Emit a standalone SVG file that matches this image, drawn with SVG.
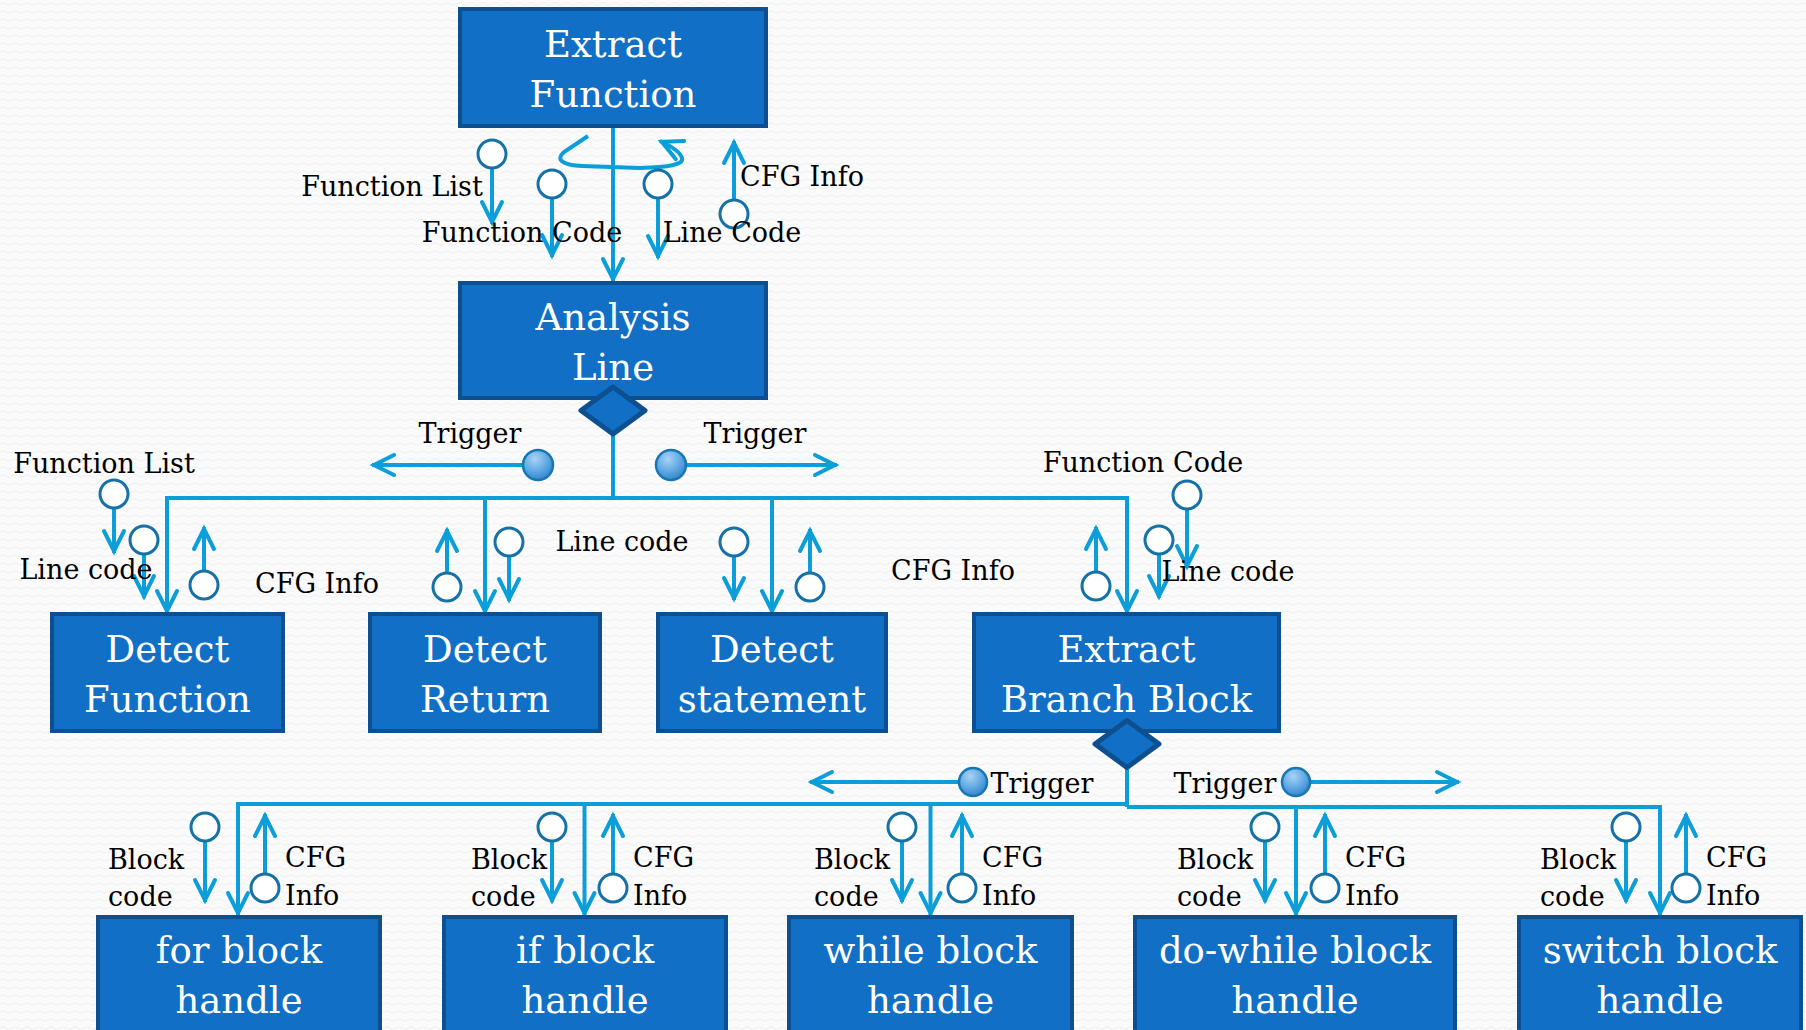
<svg xmlns="http://www.w3.org/2000/svg" width="1806" height="1030" viewBox="0 0 1806 1030">
<defs>
<style>
.box{fill:#1170C6;stroke:#0D4F8F;stroke-width:4}
.dia{fill:#1170C6;stroke:#0D4F8F;stroke-width:5;stroke-linejoin:round}
.nl{font-family:"DejaVu Serif",serif;font-size:37px;fill:#ffffff;text-anchor:middle}
.lb{font-family:"DejaVu Serif",serif;font-size:27px;fill:#000000}
.c{text-anchor:middle}
.ln{stroke:#0C9ED8;stroke-width:4;fill:none}
.ar{marker-end:url(#ah)}
.pc{fill:#ffffff;stroke:#1672A6;stroke-width:3}
.tc{fill:url(#tg);stroke:#1677B5;stroke-width:2.5}
</style>
<pattern id="bg" width="12" height="8" patternUnits="userSpaceOnUse">
<rect width="12" height="8" fill="#FBFBFC"/>
<path d="M0,4 Q3,1.5 6,4 T12,4" stroke="#EDEFF2" fill="none" stroke-width="1"/>
</pattern>
<radialGradient id="tg" cx="40%" cy="30%" r="75%">
<stop offset="0" stop-color="#A9D3F4"/>
<stop offset="0.6" stop-color="#5AA5E2"/>
<stop offset="1" stop-color="#2F80C6"/>
</radialGradient>
<marker id="ah" markerUnits="userSpaceOnUse" viewBox="-26 -14 30 28" markerWidth="30" markerHeight="28" refX="2" refY="0" orient="auto" overflow="visible">
<path d="M-20,-10 L0,0 L-20,10" fill="none" stroke="#0C9ED8" stroke-width="4" stroke-linecap="round"/>
</marker>
</defs>
<rect width="1806" height="1030" fill="url(#bg)"/>

<g id="connectors">
<!-- top -->
<path class="ln ar" d="M613,126 L613,281"/>
<path class="ln ar" d="M588,136 L564,152 C555,160 563,165 582,166 L640,168 C668,167 684,165 682,158 C680,152 671,146 660,141"/>
<path class="ln ar" d="M492,169 L492,224"/>
<path class="ln ar" d="M552,199 L552,257"/>
<path class="ln ar" d="M658,199 L658,258"/>
<path class="ln ar" d="M734,199 L734,141"/>
<!-- analysis line bus -->
<path class="ln" d="M613,434 L613,498"/>
<path class="ln ar" d="M613,498 L167,498 L167,613"/>
<path class="ln ar" d="M613,498 L1127,498 L1127,613"/>
<path class="ln ar" d="M485,498 L485,613"/>
<path class="ln ar" d="M772,498 L772,613"/>
<path class="ln ar" d="M523,465 L372,465"/>
<path class="ln ar" d="M686,465 L837,465"/>
<!-- detect function -->
<path class="ln ar" d="M114,509 L114,553"/>
<path class="ln ar" d="M144,555 L144,598"/>
<path class="ln ar" d="M204,570 L204,527"/>
<!-- detect return -->
<path class="ln ar" d="M447,572 L447,529"/>
<path class="ln ar" d="M509,557 L509,601"/>
<!-- detect statement -->
<path class="ln ar" d="M734,557 L734,600"/>
<path class="ln ar" d="M810,572 L810,529"/>
<!-- extract branch block -->
<path class="ln ar" d="M1096,571 L1096,527"/>
<path class="ln ar" d="M1159,555 L1159,598"/>
<path class="ln ar" d="M1187,510 L1187,568"/>
<!-- lower bus -->
<path class="ln" d="M1127,767 L1127,807"/>
<path class="ln ar" d="M1127,804 L238,804 L238,915"/>
<path class="ln ar" d="M584.5,804 L584.5,915"/>
<path class="ln ar" d="M930.5,804 L930.5,915"/>
<path class="ln ar" d="M1127,807 L1660,807 L1660,915"/>
<path class="ln ar" d="M1296,807 L1296,915"/>
<path class="ln ar" d="M958,782 L810,782"/>
<path class="ln ar" d="M1311,782 L1459,782"/>
<!-- block handles -->
<path class="ln ar" d="M205,842 L205,902"/>
<path class="ln ar" d="M265,873 L265,814"/>
<path class="ln ar" d="M552,842 L552,902"/>
<path class="ln ar" d="M613,873 L613,814"/>
<path class="ln ar" d="M902,842 L902,902"/>
<path class="ln ar" d="M962,873 L962,814"/>
<path class="ln ar" d="M1265,842 L1265,902"/>
<path class="ln ar" d="M1325,873 L1325,814"/>
<path class="ln ar" d="M1626,842 L1626,902"/>
<path class="ln ar" d="M1686,873 L1686,814"/>
<!-- port circles -->
<circle class="pc" cx="492" cy="154" r="14"/>
<circle class="pc" cx="552" cy="184" r="14"/>
<circle class="pc" cx="658" cy="184" r="14"/>
<circle class="pc" cx="734" cy="214" r="14"/>
<circle class="pc" cx="114" cy="494" r="14"/>
<circle class="pc" cx="144" cy="540" r="14"/>
<circle class="pc" cx="204" cy="585" r="14"/>
<circle class="pc" cx="447" cy="587" r="14"/>
<circle class="pc" cx="509" cy="542" r="14"/>
<circle class="pc" cx="734" cy="542" r="14"/>
<circle class="pc" cx="810" cy="587" r="14"/>
<circle class="pc" cx="1096" cy="586" r="14"/>
<circle class="pc" cx="1159" cy="540" r="14"/>
<circle class="pc" cx="1187" cy="495" r="14"/>
<circle class="pc" cx="205" cy="827" r="14"/>
<circle class="pc" cx="265" cy="888" r="14"/>
<circle class="pc" cx="552" cy="827" r="14"/>
<circle class="pc" cx="613" cy="888" r="14"/>
<circle class="pc" cx="902" cy="827" r="14"/>
<circle class="pc" cx="962" cy="888" r="14"/>
<circle class="pc" cx="1265" cy="827" r="14"/>
<circle class="pc" cx="1325" cy="888" r="14"/>
<circle class="pc" cx="1626" cy="827" r="14"/>
<circle class="pc" cx="1686" cy="888" r="14"/>
<circle class="tc" cx="538" cy="465" r="15"/>
<circle class="tc" cx="671" cy="465" r="15"/>
<circle class="tc" cx="973" cy="782" r="14"/>
<circle class="tc" cx="1296" cy="782" r="14"/>
<!-- labels -->
<text class="lb c" x="392" y="196">Function List</text>
<text class="lb c" x="522" y="242">Function Code</text>
<text class="lb c" x="732" y="242">Line Code</text>
<text class="lb c" x="802" y="186">CFG Info</text>
<text class="lb c" x="470" y="443">Trigger</text>
<text class="lb c" x="755" y="443">Trigger</text>
<text class="lb c" x="104" y="473">Function List</text>
<text class="lb c" x="86" y="579">Line code</text>
<text class="lb c" x="317" y="593">CFG Info</text>
<text class="lb c" x="622" y="551">Line code</text>
<text class="lb c" x="953" y="580">CFG Info</text>
<text class="lb c" x="1143" y="472">Function Code</text>
<text class="lb c" x="1228" y="581">Line code</text>
<text class="lb c" x="1042" y="793">Trigger</text>
<text class="lb c" x="1225" y="793">Trigger</text>
<text class="lb" x="108" y="869">Block</text>
<text class="lb" x="108" y="906">code</text>
<text class="lb" x="285" y="867">CFG</text>
<text class="lb" x="285" y="905">Info</text>
<text class="lb" x="471" y="869">Block</text>
<text class="lb" x="471" y="906">code</text>
<text class="lb" x="633" y="867">CFG</text>
<text class="lb" x="633" y="905">Info</text>
<text class="lb" x="814" y="869">Block</text>
<text class="lb" x="814" y="906">code</text>
<text class="lb" x="982" y="867">CFG</text>
<text class="lb" x="982" y="905">Info</text>
<text class="lb" x="1177" y="869">Block</text>
<text class="lb" x="1177" y="906">code</text>
<text class="lb" x="1345" y="867">CFG</text>
<text class="lb" x="1345" y="905">Info</text>
<text class="lb" x="1540" y="869">Block</text>
<text class="lb" x="1540" y="906">code</text>
<text class="lb" x="1706" y="867">CFG</text>
<text class="lb" x="1706" y="905">Info</text>
</g>

<g id="extract-function">
<rect class="box" x="460" y="9" width="306" height="117"/>
<text class="nl" x="613" y="57">Extract</text>
<text class="nl" x="613" y="107">Function</text>
</g>
<g id="analysis-line">
<rect class="box" x="460" y="283" width="306" height="115"/>
<text class="nl" x="613" y="330">Analysis</text>
<text class="nl" x="613" y="380">Line</text>
<polygon class="dia" points="613,387 645,410.5 613,434 581,410.5"/>
</g>
<g id="detect-function">
<rect class="box" x="52" y="614" width="231" height="117"/>
<text class="nl" x="167.5" y="662">Detect</text>
<text class="nl" x="167.5" y="712">Function</text>
</g>
<g id="detect-return">
<rect class="box" x="370" y="614" width="230" height="117"/>
<text class="nl" x="485" y="662">Detect</text>
<text class="nl" x="485" y="712">Return</text>
</g>
<g id="detect-statement">
<rect class="box" x="658" y="614" width="228" height="117"/>
<text class="nl" x="772" y="662">Detect</text>
<text class="nl" x="772" y="712">statement</text>
</g>
<g id="extract-branch-block">
<rect class="box" x="974" y="614" width="305" height="117"/>
<text class="nl" x="1126.5" y="662">Extract</text>
<text class="nl" x="1126.5" y="712">Branch Block</text>
<polygon class="dia" points="1127,720.5 1159,744 1127,767.5 1095,744"/>
</g>
<g id="for-block-handle">
<rect class="box" x="98" y="917" width="282" height="130"/>
<text class="nl" x="239" y="963">for block</text>
<text class="nl" x="239" y="1013">handle</text>
</g>
<g id="if-block-handle">
<rect class="box" x="444" y="917" width="282" height="130"/>
<text class="nl" x="585" y="963">if block</text>
<text class="nl" x="585" y="1013">handle</text>
</g>
<g id="while-block-handle">
<rect class="box" x="789" y="917" width="283" height="130"/>
<text class="nl" x="930.5" y="963">while block</text>
<text class="nl" x="930.5" y="1013">handle</text>
</g>
<g id="do-while-block-handle">
<rect class="box" x="1135" y="917" width="320" height="130"/>
<text class="nl" x="1295" y="963">do-while block</text>
<text class="nl" x="1295" y="1013">handle</text>
</g>
<g id="switch-block-handle">
<rect class="box" x="1519" y="917" width="282" height="130"/>
<text class="nl" x="1660" y="963">switch block</text>
<text class="nl" x="1660" y="1013">handle</text>
</g>
</svg>
